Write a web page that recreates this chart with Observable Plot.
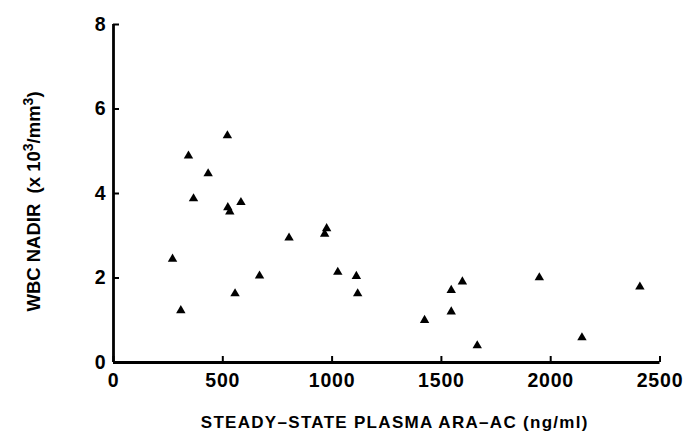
<!DOCTYPE html>
<html><head><meta charset="utf-8">
<script src="https://cdn.jsdelivr.net/npm/d3@7"></script>
<script src="https://cdn.jsdelivr.net/npm/@observablehq/plot@0.6"></script>
<style>body{margin:0;background:#fff}</style>
</head><body><div id="chart"></div>
<script>
const plasmaAraAC = [270, 308, 343, 366, 433, 521, 523, 532, 583, 556, 668, 803, 975, 966, 1026, 1111, 1117, 1423, 1596, 1545, 1545, 1664, 1948, 2143, 2408];
const wbcNadir    = [2.45, 1.23, 4.89, 3.88, 4.47, 5.37, 3.67, 3.57, 3.79, 1.63, 2.05, 2.95, 3.17, 3.04, 2.14, 2.04, 1.63, 1.0, 1.91, 1.71, 1.2, 0.4, 2.01, 0.59, 1.79];
const xTicks = [0, 500, 1000, 1500, 2000, 2500];
const yTicks = [0, 2, 4, 6, 8];
const xTitle = "STEADY\u2013STATE PLASMA ARA\u2013AC (ng/ml)";
const yTitle = "WBC NADIR\u00a0\u00a0(x 10\u00b3/mm\u00b3)";
const yTitleParts = [["WBC NADIR\u00a0\u00a0(x 10", false], ["3", true], ["/mm", false], ["3", true], [")", false]];

const data = plasmaAraAC.map((x, i) => ({x, y: wbcNadir[i]}));

const chart = Plot.plot({
  width: 684, height: 437,
  marginTop: 24, marginRight: 24.5, marginBottom: 75, marginLeft: 113,
  x: {domain: [0, 2500]},
  y: {domain: [0, 8]},
  style: {fontFamily: "'Liberation Sans', Arial, sans-serif", fontWeight: "bold", color: "#000", background: "#fff"},
  marks: [
    Plot.axisX(xTicks, {tickSize: 0, tickPadding: 11, fontSize: 19.5, tickFormat: d => String(d), label: null}),
    Plot.axisY(yTicks, {tickSize: 0, tickPadding: 8, fontSize: 19.5, tickFormat: d => String(d), label: null}),
    Plot.ruleY([0], {x1: 0, x2: 2500, strokeWidth: 2.8}),
    Plot.ruleX([0], {y1: 0, y2: 8, strokeWidth: 2.8}),
    Plot.ruleX(xTicks, {y1: 0, y2: 0, insetTop: -6, strokeWidth: 2}),
    Plot.ruleY(yTicks, {x1: 0, x2: 0, insetRight: -6, strokeWidth: 2}),
    Plot.dot(data, {x: "x", y: "y", symbol: "triangle", r: 3.5, fill: "#000", stroke: "none"}),
    Plot.text([xTitle], {text: d => d, frameAnchor: "bottom", textAnchor: "middle", dy: 65, dx: 8, fontSize: 17}),
    Plot.text([yTitle], {text: d => d, frameAnchor: "left", textAnchor: "middle", rotate: -90, dx: -79, dy: 8, fontSize: 18.5})
  ]
});
const sel = d3.select(chart).selectAll("text");
sel.filter(function() { return this.textContent === xTitle; }).style("letter-spacing", "1.3px");
sel.filter(function() {
  const g = this.closest("g");
  return g && /x-axis/.test(g.getAttribute("aria-label") || "");
}).style("letter-spacing", "0.8px");
const yt = sel.filter(function() { return this.textContent === yTitle; });
yt.text(null);
let raised = false;
for (const [s, sup] of yTitleParts) {
  const t = yt.append("tspan").text(s);
  if (sup && !raised) { t.attr("dy", -7).attr("font-size", 14); raised = true; }
  else if (sup) { t.attr("font-size", 14); }
  else if (raised) { t.attr("dy", 7); raised = false; }
}
document.getElementById("chart").appendChild(chart);
</script>
</body></html>
